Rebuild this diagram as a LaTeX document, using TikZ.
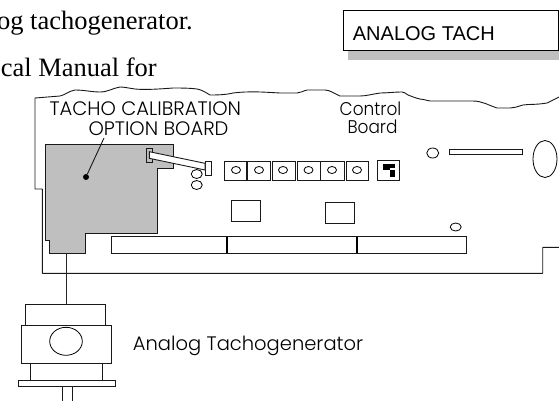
\documentclass[tikz,border=0pt]{standalone}
\usepackage{fontspec}
\setmainfont{Liberation Serif}
\newfontfamily\arialf{Liberation Sans}
\newfontfamily\geof{Poppins Light}
\newfontfamily\geon[FakeStretch=0.92]{Poppins Light}
\tikzset{
 x=1pt,y=-1pt,
 part/.style={draw=black!90,line width=0.9pt,fill=white},
 hole/.style={draw=black,line width=0.8pt,fill=white},
 bodytext/.style={font=\fontsize{26.5}{26.5}\selectfont,anchor=base east,inner sep=0pt},
 boardtext/.style={font=\geof\fontsize{19.5}{19.5}\selectfont,anchor=base,inner sep=0pt,text=black},
 ctrltext/.style={font=\geon\fontsize{18.4}{18.4}\selectfont,anchor=base,inner sep=0pt,text=black},
}
\begin{document}
\begin{tikzpicture}
\useasboundingbox (0,0) rectangle (559,400);
\clip (0,0) rectangle (559,400);
% body text
\node[bodytext] (t1) at (193,29) {og tachogenerator.};
\node[bodytext] (t2) at (157,76) {cal Manual for};
% badge
\fill[black!25] (348.3,20) rectangle (559,60);
\draw[fill=white,draw=black,line width=1pt] (343,10.7) rectangle (558,50.3);
\node[font=\arialf\fontsize{20}{20}\selectfont,anchor=base west,inner sep=0pt] (badge) at (352.7,40) {ANALOG TACH};
% board outline
\draw[line width=0.9pt,draw=black!90,line join=round]
 (559,97) -- (547,103) .. controls (535,105) and (529,104) .. (523,105)
 .. controls (516,107) and (514,108) .. (510,108) -- (497,108)
 .. controls (488,105) and (482,101) .. (473,101) -- (430,101)
 .. controls (425,100) and (422,99) .. (420,99) .. controls (415,98) and (411,96) .. (408,95)
 .. controls (405,93) and (404,92) .. (402,92) .. controls (394,92) and (387,93) .. (380,93)
 .. controls (373,94) and (366,96) .. (360,96) -- (340,96)
 .. controls (335,94) and (330,90) .. (325,90) -- (307,90)
 .. controls (303,91) and (300,93) .. (297,93) -- (280,93)
 .. controls (262,92) and (250,91) .. (233,93) .. controls (225,95) and (215,95) .. (210,95)
 .. controls (205,92) and (202,90) .. (197,89) .. controls (190,88) and (180,88) .. (173,88)
 .. controls (160,89) and (145,90) .. (135,89) .. controls (128,88) and (124,87) .. (120,87)
 .. controls (113,88) and (108,92) .. (100,92) .. controls (92,92) and (84,90) .. (75,90)
 .. controls (69,91) and (65,95) .. (60,96) -- (35,98)
 -- (35,189) -- (42.3,189) -- (42.3,273.3) -- (542.7,273.3) -- (542.7,247.3) -- (559,247.3);
% option board
\draw[fill=black!25,draw=black!90,line width=0.9pt]
 (45.7,144.7) -- (173,144.7) -- (173,168) -- (157.3,168) -- (157.3,233.3) -- (85.7,233.3)
 -- (85.7,253) -- (49,253) -- (49,240.7) -- (45.7,240.7) -- cycle;
\coordinate (obb) at (66.7,253);
% ribbon
\draw[draw=black!90,line width=0.9pt] (146.7,148) rectangle (152.7,162);
\draw[part] (205,161) rectangle (211,175);
\draw[part] (149.3,151.7) -- (205,163.3) -- (205,170) -- (149.3,158.3) -- cycle;
% holes
\draw[hole] (196.7,174) ellipse (5.5 and 4.5);
\draw[hole] (196.7,185) ellipse (5.5 and 4.5);
% terminal row
\draw[part] (224.7,161.3) rectangle (246.3,180.3);
\draw[part] (247.7,161.3) rectangle (270.5,180.3);
\draw[part] (272,161.3) rectangle (295,180.3);
\draw[part] (297.3,161.3) rectangle (320,180.3);
\draw[part] (320.7,161.3) rectangle (344.3,180.3);
\draw[part] (346,161.3) rectangle (368,180.3);
\foreach \cx in {236,259,283,308.5,332,357}
  \draw[hole] (\cx,170) ellipse (4.5 and 3.5);
% switch
\draw[part,line width=1pt] (377.7,160.7) rectangle (399.3,180);
\fill[black] (383.3,164) rectangle (389.5,170.3);
\fill[black] (389.5,164) rectangle (395,168.3);
\fill[black] (389.5,170.3) rectangle (395,176.7);
% right parts
\draw[hole] (432.7,153) ellipse (6 and 5);
\draw[part] (449,149) rectangle (522.7,154.3);
\draw[hole] (545,159) ellipse (12 and 18.5);
\draw[part] (231.7,200.7) rectangle (260.3,221);
\draw[part] (325.3,202.5) rectangle (354.3,223);
\draw[hole] (455.7,227) ellipse (5.5 and 4);
% long connector
\draw[part] (111.3,236.7) rectangle (466.7,253.3);
\draw[line width=1.3pt] (227,236.7) -- (227,253.3);
\draw[line width=1.3pt] (357,236.7) -- (357,253.3);
% labels on board
\node[boardtext] (l1) at (145.3,115) {TACHO CALIBRATION};
\node[boardtext] (l2) at (158.5,135) {OPTION BOARD};
\node[ctrltext] (l3) at (370.5,115) {Control};
\node[ctrltext] (l4) at (372.5,133) {Board};
\coordinate (lead) at (104,138);
\node[circle,fill=black,inner sep=0pt,minimum size=6pt] (dot) at (86,177) {};
\draw[line width=0.9pt,draw=black!90] (lead) -- (dot);
% tachogenerator
\draw[part] (25.3,304) rectangle (105.7,325.3);
\draw[part] (21,325.3) rectangle (111,363.7);
\draw[hole] (66,341.3) ellipse (16.3 and 14);
\draw[part] (30.3,363) rectangle (102,380);
\draw[part] (18.3,380) rectangle (115,386.7);
\draw[part] (62.3,386) rectangle (72.3,402);
\coordinate (tachtop) at (66.7,304);
\draw[line width=0.9pt,draw=black!85] (obb) -- (tachtop);
\node[font=\geof\fontsize{19.5}{19.5}\selectfont,anchor=base west,inner sep=0pt,text=black] (l5) at (132.7,350) {Analog Tachogenerator};
\end{tikzpicture}
\end{document}
